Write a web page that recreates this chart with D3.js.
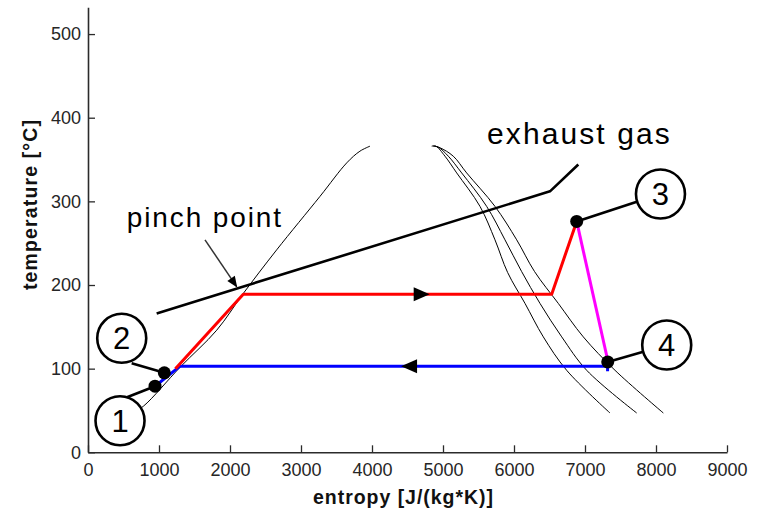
<!DOCTYPE html>
<html>
<head>
<meta charset="utf-8">
<script src="https://cdn.jsdelivr.net/npm/d3@7"></script>
<style>
  html, body { margin: 0; padding: 0; background: #fff; }
  svg { display: block; }
</style>
</head>
<body>
<svg id="chart" width="760" height="511"></svg>
<script>
// T-s diagram of a steam cycle heated by exhaust gas (entropy J/(kg*K), temperature °C)

const xTickValues = [0, 1000, 2000, 3000, 4000, 5000, 6000, 7000, 8000, 9000];
const yTickValues = [0, 100, 200, 300, 400, 500];

// saturated liquid line
const liquidLine = [[610, 46], [779, 55], [1300, 102], [1813, 146], [2188, 190],
  [2657, 242], [3268, 306], [3644, 346], [3830, 360], [3972, 366]];

// three vapour-side curves
const vaporA = [[4841, 366], [4900, 366], [5028, 354], [5193, 334], [5521, 294], [5732, 254],
  [5910, 215], [6155, 178], [6413, 138], [6742, 98], [7352, 47]];
const vaporB = [[4860, 366], [4930, 365], [5075, 354], [5263, 334], [5615, 294], [5873, 254],
  [6108, 216], [6366, 178], [6672, 138], [7024, 98], [7728, 47]];
const vaporC = [[4880, 366], [4960, 364], [5145, 354], [5333, 334], [5732, 294], [6038, 254],
  [6290, 216], [6624, 178], [6976, 138], [7423, 98], [8103, 47]];

// exhaust gas cooling line
const exhaustGas = [[967, 166], [6507, 312], [6906, 344]];

// cycle paths
const heating = [[1231, 100], [2187, 189], [6531, 189], [6883, 276]];
const expansion = [[6883, 276], [7320, 110]];
const condensation = [[7318, 97], [7318, 103], [1296, 103], [944, 79]];

// state points and their numbered labels
const stateIds = ["1", "2", "3", "4"];
const stateS = [944, 1075, 6883, 7320];
const stateT = [79, 95, 276, 108];
const labelS = [451, 475, 8063, 8151];
const labelT = [37.7, 136.3, 308.8, 128.3];
const leaderS = [549, 615, 8063, 8151];
const leaderT = [65.8, 106.4, 308.8, 128.3];

// flow direction markers
const flowS = [4700, 4522];
const flowT = [189, 103];
const flowDir = [1, -1];

// annotations
const pinchFrom = [1648, 254];
const pinchTo = [2094, 198];
const pinchLabel = [545, 269.7];
const exhaustLabel = [5620, 368.6];

const svg = d3.select("#chart");

const x = d3.scaleLinear().domain([0, 9000]).range([88, 727]);
const y = d3.scaleLinear().domain([0, 532]).range([452.3, 7.3]);

const line = d3.line().x(d => x(d[0])).y(d => y(d[1]));
const smooth = d3.line().x(d => x(d[0])).y(d => y(d[1])).curve(d3.curveCatmullRom.alpha(0.5));

// axes
const axisColor = "#2b2b2b";
const xAxis = svg.append("g")
  .attr("transform", `translate(0,${y(0)})`)
  .call(d3.axisBottom(x).tickValues(xTickValues).tickFormat(d3.format("d"))
    .tickSizeInner(-7).tickSizeOuter(0).tickPadding(11));
const yAxis = svg.append("g")
  .attr("transform", `translate(${x(0)},0)`)
  .call(d3.axisLeft(y).tickValues(yTickValues).tickFormat(d3.format("d"))
    .tickSizeInner(-7).tickSizeOuter(0).tickPadding(7));

[xAxis, yAxis].forEach(g => {
  g.select(".domain").attr("stroke", axisColor).attr("stroke-width", 1.6);
  g.selectAll(".tick line").attr("stroke", axisColor).attr("stroke-width", 1.3);
  g.selectAll(".tick text")
    .attr("fill", "#262626")
    .style("font-family", "'Liberation Sans', Arial, sans-serif")
    .style("font-size", "18px");
});

svg.append("text")
  .attr("x", 313)
  .attr("y", 503.5)
  .attr("textLength", 180)
  .attr("lengthAdjust", "spacing")
  .style("font-family", "'Liberation Sans', Arial, sans-serif")
  .style("font-size", "19.5px")
  .style("font-weight", "bold")
  .attr("fill", "#111")
  .text("entropy [J/(kg*K)]");

svg.append("text")
  .attr("transform", "translate(36.5,290) rotate(-90)")
  .attr("textLength", 170)
  .attr("lengthAdjust", "spacing")
  .style("font-family", "'Liberation Sans', Arial, sans-serif")
  .style("font-size", "19.5px")
  .style("font-weight", "bold")
  .attr("fill", "#111")
  .text("temperature [°C]");

// saturation curves
svg.append("path").attr("d", smooth(liquidLine))
  .attr("fill", "none").attr("stroke", "#000").attr("stroke-width", 1);
[vaporA, vaporB, vaporC].forEach(v => {
  svg.append("path").attr("d", smooth(v))
    .attr("fill", "none").attr("stroke", "#000").attr("stroke-width", 1);
});

// exhaust gas
svg.append("path").attr("d", line(exhaustGas))
  .attr("fill", "none").attr("stroke", "#000").attr("stroke-width", 2.6)
  .attr("stroke-linejoin", "round");

// cycle
svg.append("path").attr("d", line(condensation))
  .attr("fill", "none").attr("stroke", "#0000ff").attr("stroke-width", 3);
svg.append("path").attr("d", line(heating))
  .attr("fill", "none").attr("stroke", "#ff0000").attr("stroke-width", 3)
  .attr("stroke-linejoin", "round");
svg.append("path").attr("d", line(expansion))
  .attr("fill", "none").attr("stroke", "#ff00ff").attr("stroke-width", 3);

// flow direction triangles
flowS.forEach((s, i) => {
  svg.append("path")
    .attr("transform", `translate(${x(s)},${y(flowT[i])}) scale(${flowDir[i]},1)`)
    .attr("d", "M-8,-7L8,0L-8,7Z")
    .attr("fill", "#000");
});

// pinch point pointer
svg.append("line")
  .attr("x1", x(pinchFrom[0])).attr("y1", y(pinchFrom[1]))
  .attr("x2", x(pinchTo[0])).attr("y2", y(pinchTo[1]))
  .attr("stroke", "#333").attr("stroke-width", 1.5);
{
  const ang = Math.atan2(y(pinchTo[1]) - y(pinchFrom[1]), x(pinchTo[0]) - x(pinchFrom[0])) * 180 / Math.PI;
  svg.append("path")
    .attr("transform", `translate(${x(pinchTo[0])},${y(pinchTo[1])}) rotate(${ang})`)
    .attr("d", "M1,0L-10,-4.5L-10,4.5Z")
    .attr("fill", "#000");
}

// state point leaders, labels and dots
stateIds.forEach((id, i) => {
  svg.append("line")
    .attr("x1", x(leaderS[i])).attr("y1", y(leaderT[i]))
    .attr("x2", x(stateS[i])).attr("y2", y(stateT[i]))
    .attr("stroke", "#000").attr("stroke-width", 2.6);
});
stateIds.forEach((id, i) => {
  svg.append("circle")
    .attr("cx", x(labelS[i])).attr("cy", y(labelT[i])).attr("r", 24.5)
    .attr("fill", "#fff").attr("stroke", "#000").attr("stroke-width", 2.6);
  svg.append("text")
    .attr("x", x(labelS[i])).attr("y", y(labelT[i]) + 11)
    .attr("text-anchor", "middle")
    .style("font-family", "'Liberation Sans', Arial, sans-serif")
    .style("font-size", "31px")
    .attr("fill", "#000")
    .text(id);
  svg.append("circle")
    .attr("cx", x(stateS[i])).attr("cy", y(stateT[i])).attr("r", 6.5)
    .attr("fill", "#000");
});

// text annotations
svg.append("text")
  .attr("x", x(pinchLabel[0])).attr("y", y(pinchLabel[1]))
  .style("font-family", "'Liberation Sans', Arial, sans-serif")
  .style("font-size", "28px")
  .style("letter-spacing", "1.9px")
  .attr("fill", "#000")
  .text("pinch point");

svg.append("text")
  .attr("x", x(exhaustLabel[0])).attr("y", y(exhaustLabel[1]))
  .style("font-family", "'Liberation Sans', Arial, sans-serif")
  .style("font-size", "30px")
  .style("letter-spacing", "2.1px")
  .attr("fill", "#000")
  .text("exhaust gas");
</script>
</body>
</html>
